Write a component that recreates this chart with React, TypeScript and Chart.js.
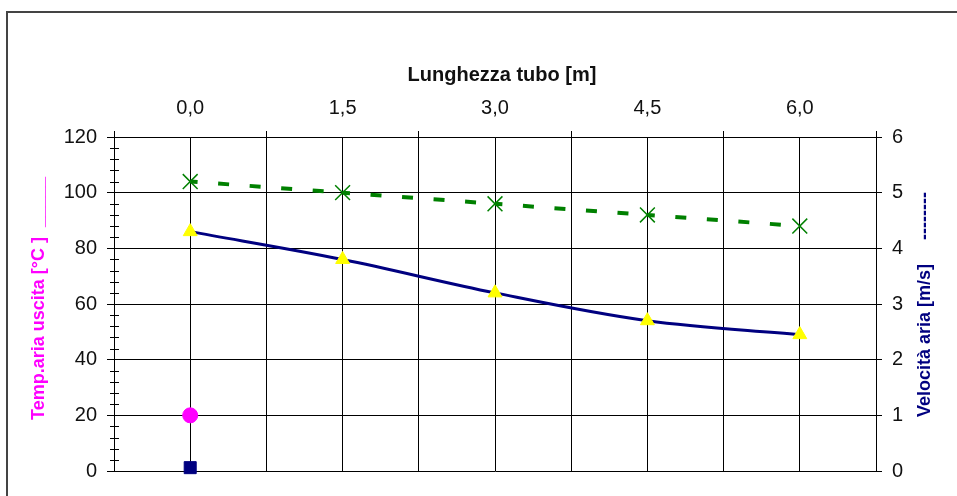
import React, { useEffect, useRef } from 'react';
import { Chart, registerables } from 'chart.js';

Chart.register(...registerables);

const FONT = '"Liberation Sans", Arial, sans-serif';

// Data
const lunghezze = [0, 1.5, 3, 4.5, 6];
const xLabels = ['0,0', '1,5', '3,0', '4,5', '6,0'];
const tempUscita = [86, 76, 64, 54, 49];
const velocitaAria = [5.2, 5.0, 4.8, 4.6, 4.4];
const tempIngressoX = [0];
const tempIngresso = [20];
const quadratoX = [0];
const quadrato = [1.2];
const minorStep = 4;

const isLabeled = (v: number) => lunghezze.some((p) => Math.abs(p - v) < 1e-6);

const overlay = {
  id: 'overlay',
  afterDraw(chart: any) {
    const ctx = chart.ctx as CanvasRenderingContext2D;
    const y = chart.scales.y;
    ctx.save();
    // minor ticks on left axis
    ctx.strokeStyle = '#000';
    ctx.lineWidth = 1;
    for (let v = y.min + minorStep; v < y.max; v += minorStep) {
      if (Math.abs(v % 20) < 1e-6) continue;
      const py = Math.round(y.getPixelForValue(v)) + 0.5;
      ctx.beginPath();
      ctx.moveTo(y.right - 4, py);
      ctx.lineTo(y.right + 5, py);
      ctx.stroke();
    }
    // top title
    ctx.fillStyle = '#111';
    ctx.font = `bold 20px ${FONT}`;
    ctx.textAlign = 'center';
    ctx.textBaseline = 'middle';
    ctx.fillText('Lunghezza tubo [m]', 502, 75);
    // left title
    ctx.save();
    ctx.translate(39, 420);
    ctx.rotate(-Math.PI / 2);
    ctx.font = `bold 18px ${FONT}`;
    ctx.textAlign = 'left';
    ctx.fillStyle = '#FF00FF';
    ctx.fillText('Temp.aria uscita [°C ]', 0, 0);
    ctx.fillText('_____', 193, 0);
    ctx.restore();
    // right title
    ctx.save();
    ctx.translate(925, 417);
    ctx.rotate(-Math.PI / 2);
    ctx.font = `bold 18px ${FONT}`;
    ctx.textAlign = 'left';
    ctx.textBaseline = 'middle';
    ctx.fillStyle = '#000080';
    ctx.fillText('Velocità aria [m/s]', 0, 0);
    ctx.fillText('--------', 177, 0);
    ctx.restore();
    ctx.restore();
  },
};

export default function App() {
  const ref = useRef<HTMLCanvasElement | null>(null);
  useEffect(() => {
    if (!ref.current) return;
    const chart = new Chart(ref.current, {
      type: 'line',
      data: {
        datasets: [
          {
            label: 'Temp. aria uscita',
            data: lunghezze.map((x, i) => ({ x, y: tempUscita[i] })),
            yAxisID: 'y',
            borderColor: '#000080',
            borderWidth: 3,
            tension: 0.35,
            pointStyle: 'triangle',
            pointRadius: 8,
            pointBackgroundColor: '#FFFF00',
            pointBorderColor: '#FFFF00',
            pointBorderWidth: 1,
            clip: false,
            order: 1,
          },
          {
            label: 'Velocità aria',
            data: lunghezze.map((x, i) => ({ x, y: velocitaAria[i] })),
            yAxisID: 'y2',
            borderColor: '#008000',
            borderWidth: 4,
            borderDash: [11, 20.6],
            borderDashOffset: 3.6,
            segment: {
              borderDashOffset: (c: any) => 3.6 + c.p0DataIndex * 0.001,
            },
            pointStyle: 'crossRot',
            pointRadius: 10.5,
            pointBorderColor: '#008000',
            pointBackgroundColor: '#008000',
            pointBorderWidth: 1.5,
            clip: false,
            order: 2,
          },
          {
            label: 'Temp. ingresso',
            data: tempIngressoX.map((x, i) => ({ x, y: tempIngresso[i] })),
            yAxisID: 'y',
            showLine: false,
            pointStyle: 'circle',
            pointRadius: 7.5,
            pointBackgroundColor: '#FF00FF',
            pointBorderColor: '#FF00FF',
            clip: false,
            order: 0,
          },
          {
            label: 'Quadrato',
            data: quadratoX.map((x, i) => ({ x, y: quadrato[i] })),
            yAxisID: 'y',
            showLine: false,
            pointStyle: 'rect',
            pointRadius: 8.5,
            pointBackgroundColor: '#000080',
            pointBorderColor: '#000080',
            clip: false,
            order: 0,
          },
        ] as any,
      },
      options: {
        responsive: false,
        animation: false,
        events: [],
        layout: { padding: { top: 0, left: 0, right: 0, bottom: 25 } },
        plugins: { legend: { display: false }, tooltip: { enabled: false } },
        scales: {
          x: {
            type: 'linear',
            position: 'top',
            min: -0.75,
            max: 6.75,
            ticks: {
              stepSize: 0.75,
              autoSkip: false,
              maxRotation: 0,
              padding: 11,
              color: '#111',
              font: { size: 20, family: FONT },
              callback: (v: any) => {
                const i = lunghezze.findIndex((p) => Math.abs(p - Number(v)) < 1e-6);
                return i >= 0 ? xLabels[i] : '';
              },
            },
            grid: {
              color: '#000',
              lineWidth: 1,
              tickLength: 6,
              tickColor: (c: any) => (c.tick && isLabeled(c.tick.value) ? 'rgba(0,0,0,0)' : '#000'),
            },
            border: { color: '#000', width: 1 },
            afterFit(s: any) {
              s.height = 137;
            },
          },
          y: {
            type: 'linear',
            position: 'left',
            min: 0,
            max: 120,
            ticks: {
              stepSize: 20,
              padding: 10,
              color: '#111',
              font: { size: 20, family: FONT },
            },
            grid: { color: '#000', lineWidth: 1, tickLength: 7, tickColor: '#000' },
            border: { color: '#000', width: 1 },
            afterFit(s: any) {
              s.width = 114;
            },
          },
          y2: {
            type: 'linear',
            position: 'right',
            min: 0,
            max: 6,
            ticks: {
              stepSize: 1,
              padding: 10,
              color: '#111',
              font: { size: 20, family: FONT },
            },
            grid: { drawOnChartArea: false, color: '#000', tickLength: 6 },
            border: { color: '#000', width: 1 },
            afterFit(s: any) {
              s.width = 81;
            },
          },
        },
      } as any,
      plugins: [overlay],
    });
    return () => chart.destroy();
  }, []);

  return (
    <div
      style={{
        position: 'fixed',
        left: 0,
        top: 0,
        width: 957,
        height: 496,
        overflow: 'hidden',
        background: '#fff',
      }}
    >
      <div
        style={{
          position: 'absolute',
          left: 6,
          top: 11,
          width: 1100,
          height: 700,
          border: '2px solid #444',
        }}
      />
      <canvas
        ref={ref}
        width={957}
        height={496}
        style={{ position: 'absolute', left: 0, top: 0, width: 957, height: 496 }}
      />
    </div>
  );
}
